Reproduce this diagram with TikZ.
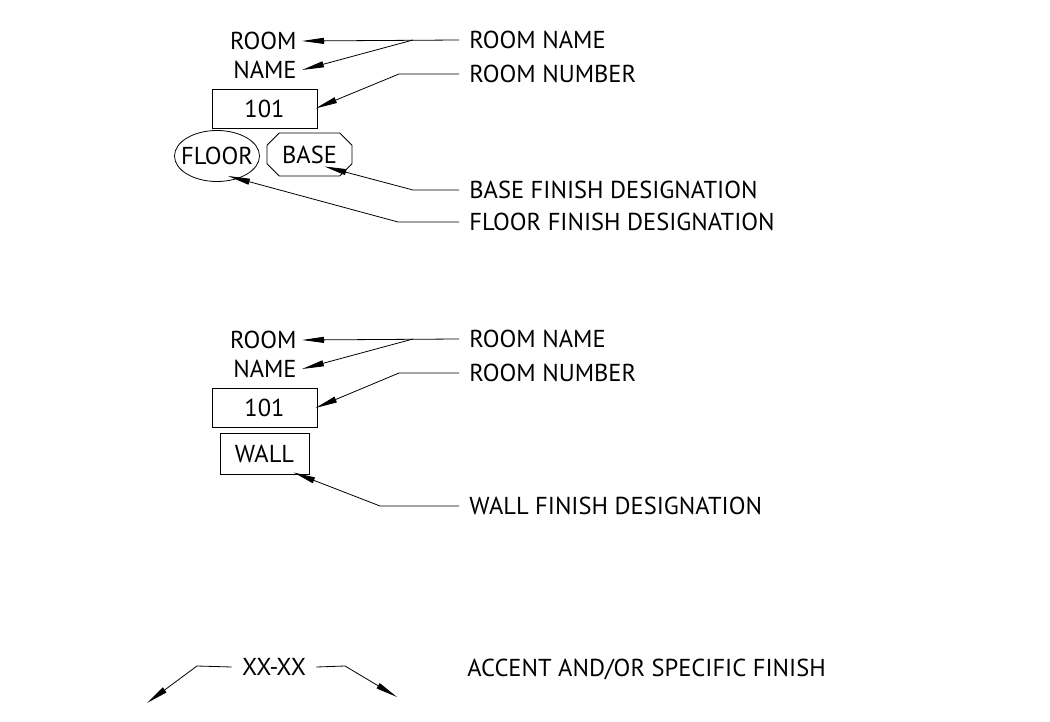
\documentclass[tikz,border=0pt]{standalone}
\usepackage{fontspec}
\setmainfont{PT Sans}
\usetikzlibrary{positioning, calc, arrows.meta, shapes.geometric, shapes.misc}

\begin{document}
\begin{tikzpicture}[x=1pt, y=-1pt, line width=0.8pt, >={Triangle[length=22pt, width=6pt]},
    txt/.style={font=\fontsize{24.5}{27}\selectfont, inner ysep=2pt},
    tagleft/.style={txt, anchor=east, inner xsep=5pt},
    lbl/.style={txt, anchor=west, inner xsep=10pt},
    numbox/.style={txt, draw, minimum width=105pt, minimum height=39pt},
    leader/.style={->}]

    \useasboundingbox (0,0) rectangle (1050,722);

    % --- Room tag with floor and base finish ---
    \node[tagleft] (roomA) at (302,41) {ROOM};
    \node[tagleft] (nameA) at (302,70) {NAME};
    \node[numbox] (numA) at (264.5,108.5) {101};
    \node[txt, inner sep=0pt] (floorA) at (217,156) {FLOOR};
    \draw (floorA.center) ellipse [x radius=42.5, y radius=25.5];
    \node[txt, draw, chamfered rectangle, chamfered rectangle xsep=11pt, inner sep=0pt,
          minimum width=85pt, minimum height=43pt] (baseA) at (309.5,154.5) {BASE};

    % labels on the right
    \node[lbl] (lnameA) at (459,40) {ROOM NAME};
    \node[lbl] (lnumA) at (459,74) {ROOM NUMBER};
    \node[lbl] (lbase) at (459,190) {BASE FINISH DESIGNATION};
    \node[lbl] (lfloor) at (459,222) {FLOOR FINISH DESIGNATION};

    % leaders
    \coordinate (kA) at (413,40);
    \draw[leader] (lnameA.west) -- (roomA.east);
    \draw[leader] (kA) -- (nameA.east);
    \draw[leader] (lnumA.west) -- (399,74) -- ([xshift=-2pt]numA.east);
    \draw[leader] (lbase.west) -- (413,190) -- ($(baseA.center)+(15,12)$);
    \draw[leader] (lfloor.west) -- (398,222) -- ($(floorA.center)+(11,20)$);

    % --- Room tag with wall finish ---
    \node[tagleft] (roomB) at (302,340) {ROOM};
    \node[tagleft] (nameB) at (302,369) {NAME};
    \node[numbox] (numB) at (264.5,408) {101};
    \node[txt, draw, minimum width=89pt, minimum height=41pt] (wallB) at (264.5,453.5) {WALL};

    \node[lbl] (lnameB) at (459,339) {ROOM NAME};
    \node[lbl] (lnumB) at (459,373) {ROOM NUMBER};
    \node[lbl] (lwall) at (459,506) {WALL FINISH DESIGNATION};

    \coordinate (kB) at (413,339);
    \draw[leader] (lnameB.west) -- (roomB.east);
    \draw[leader] (kB) -- (nameB.east);
    \draw[leader] (lnumB.west) -- (399,373) -- ([xshift=-2pt]numB.east);
    \draw[leader] (lwall.west) -- (380,506) -- ($(wallB.south east)+(-16,-2)$);

    % --- Accent finish tag ---
    \node[txt, inner xsep=10pt] (accent) at (274,667) {XX-XX};
    \node[txt, anchor=west, inner xsep=0pt] (lacc) at (467,669) {ACCENT AND/OR SPECIFIC FINISH};
    \draw[leader] (accent.west) -- (197,666) -- (147,703);
    \draw[leader] (accent.east) -- (345,666) -- (397,697);

\end{tikzpicture}
\end{document}
